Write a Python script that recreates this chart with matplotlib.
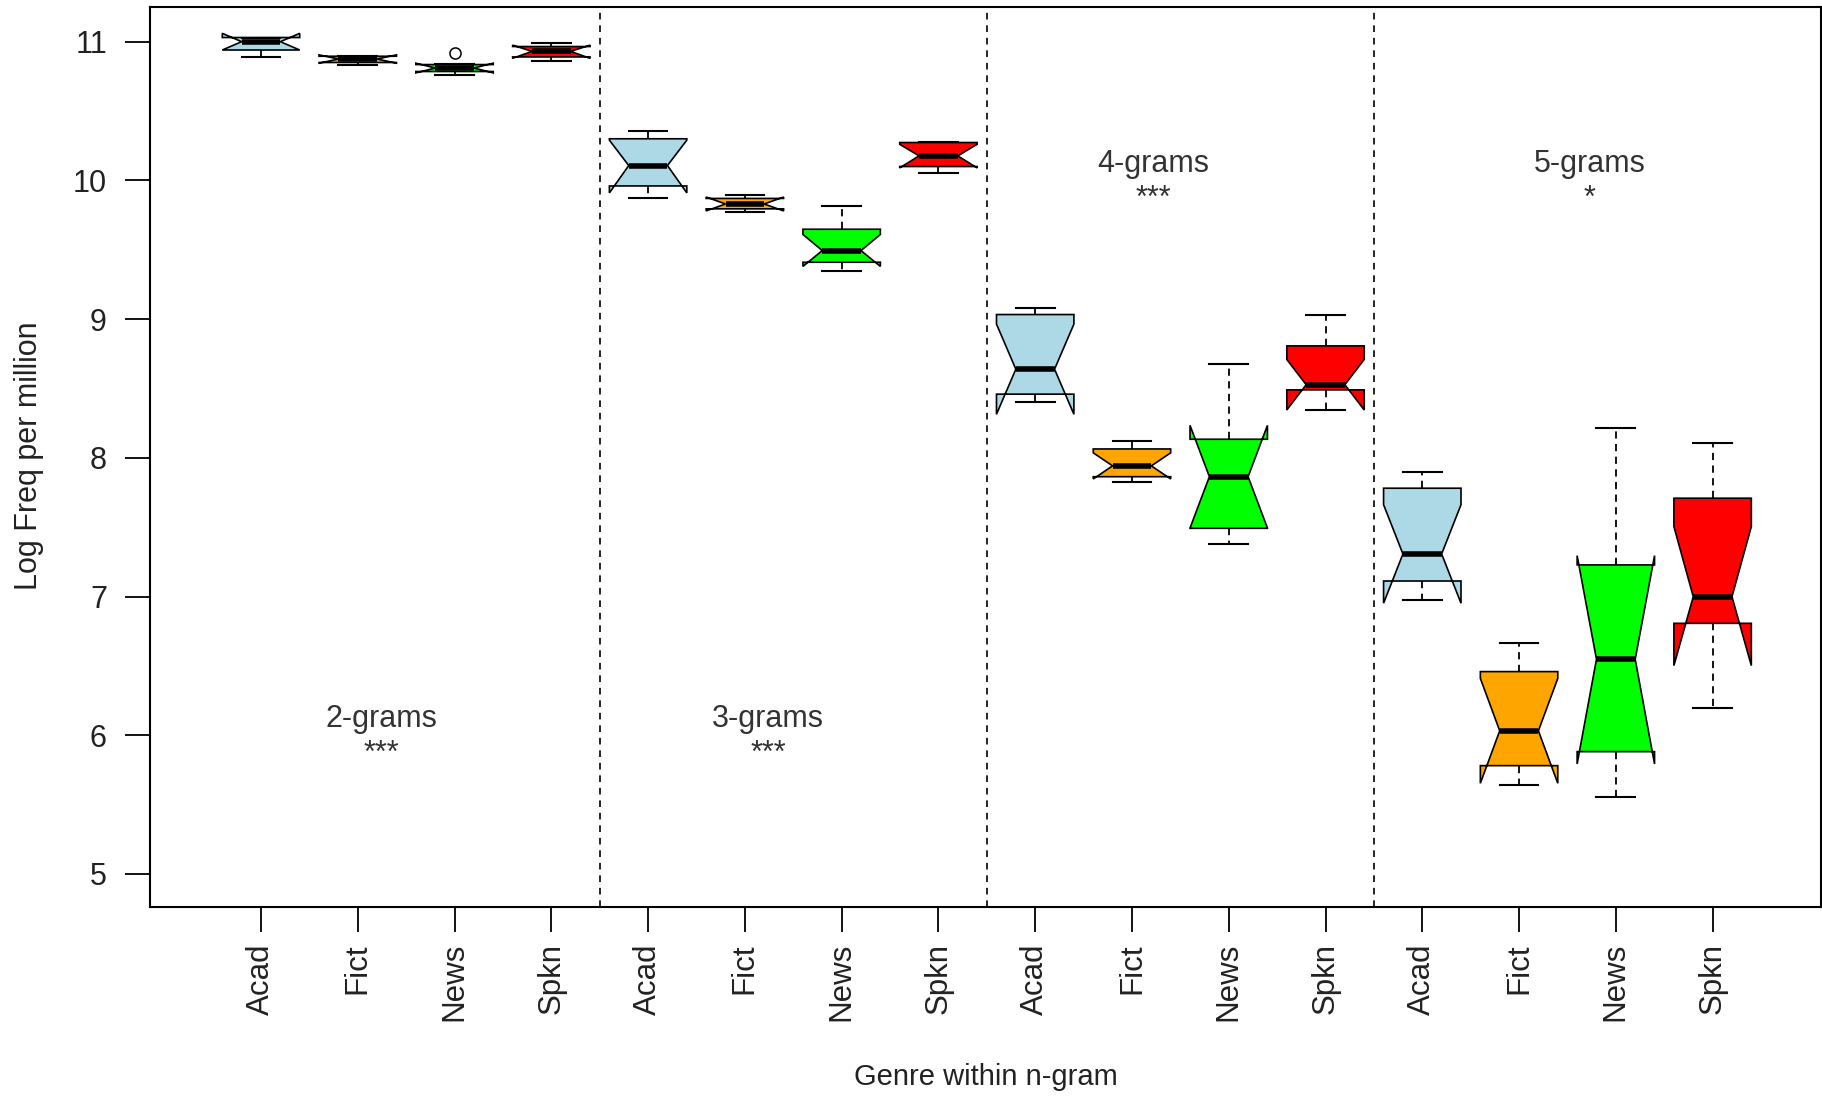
import matplotlib
matplotlib.use("Agg")
import matplotlib.pyplot as plt

plt.rcParams['font.family'] = ['Liberation Sans', 'DejaVu Sans']

# --- data (log frequency per million) ---
ngrams = ['2-grams', '3-grams', '4-grams', '5-grams']
genres = ['Acad', 'Fict', 'News', 'Spkn']
stars = ['***', '***', '***', '*']
genre_colors = ['#ADD8E6', '#FFA500', '#00FF00', '#FF0000']

# order: 2g Acad..Spkn, 3g Acad..Spkn, 4g ..., 5g ...
whislo = [10.89, 10.83, 10.76, 10.86,
          9.87, 9.77, 9.347, 10.05,
          8.40, 7.824, 7.379, 8.345,
          6.973, 5.642, 5.557, 6.197]
q1 = [10.94, 10.85, 10.785, 10.89,
      9.96, 9.795, 9.41, 10.10,
      8.459, 7.864, 7.492, 8.49,
      7.112, 5.781, 5.882, 6.807]
med = [11.00, 10.875, 10.81, 10.93,
       10.107, 9.83, 9.494, 10.177,
       8.639, 7.942, 7.864, 8.527,
       7.307, 6.032, 6.548, 6.999]
q3 = [11.03, 10.895, 10.835, 10.965,
      10.30, 9.87, 9.648, 10.273,
      9.033, 8.064, 8.134, 8.807,
      7.781, 6.459, 7.228, 7.709]
whishi = [11.03, 10.90, 10.84, 10.99,
          10.357, 9.895, 9.816, 10.28,
          9.083, 8.122, 8.679, 9.03,
          7.898, 6.668, 8.218, 8.105]
notch_lo = [10.94, 10.845, 10.775, 10.88,
            9.91, 9.78, 9.38, 10.09,
            8.314, 7.848, 7.494, 8.345,
            6.952, 5.654, 5.793, 6.502]
notch_hi = [11.06, 10.905, 10.845, 10.975,
            10.29, 9.88, 9.61, 10.26,
            8.964, 8.036, 8.234, 8.709,
            7.662, 6.41, 7.295, 7.504]
outliers = {2: [10.92]}

# label positions (x in box units, y in data units)
label_x = [2.24, 6.24, 10.22, 14.73]
label_y = [6.06, 6.06, 10.06, 10.06]


def build_stats():
    stats = []
    for i in range(len(med)):
        stats.append(dict(med=med[i], q1=q1[i], q3=q3[i],
                          whislo=whislo[i], whishi=whishi[i],
                          cilo=notch_lo[i], cihi=notch_hi[i],
                          fliers=outliers.get(i, [])))
    return stats


fig = plt.figure(figsize=(18.22, 10.96), dpi=100)
ax = fig.add_axes([150 / 1822, 1 - 907 / 1096, 1671 / 1822, 900 / 1096])

positions = list(range(1, 17))
bp = ax.bxp(build_stats(), positions=positions, widths=0.8,
            shownotches=True, patch_artist=True, manage_ticks=False,
            boxprops=dict(edgecolor='black', linewidth=1.2),
            medianprops=dict(color='black', linewidth=4, solid_capstyle='butt'),
            whiskerprops=dict(color='black', linewidth=1.3, linestyle=(0, (4, 3))),
            capprops=dict(color='black', linewidth=1.5),
            flierprops=dict(marker='o', markerfacecolor='none',
                            markeredgecolor='black', markersize=8,
                            markeredgewidth=1.1))
for i, box in enumerate(bp['boxes']):
    box.set_facecolor(genre_colors[i % 4])

# group separators
for xs in (4.5, 8.5, 12.5):
    ax.axvline(xs, color='black', linewidth=1.2, linestyle=(0, (4, 3.5)), zorder=0)

for name, s, x, y in zip(ngrams, stars, label_x, label_y):
    ax.text(x, y, name, ha='center', va='baseline', fontsize=22, color='#333333')
    ax.text(x, y - 0.25, s, ha='center', va='baseline', fontsize=22, color='#333333')

ax.set_xlim(-0.147, 17.12)
ax.set_ylim(4.762, 11.25)
ax.set_yticks([5, 6, 7, 8, 9, 10, 11])
ax.set_xticks(positions, labels=genres * 4, rotation=90)
ax.tick_params(axis='y', labelsize=22, length=18, width=1.3, pad=13, labelcolor='#222222')
ax.tick_params(axis='x', labelsize=22.5, length=18, width=1.3, pad=8, labelcolor='#222222')
for sp in ax.spines.values():
    sp.set_linewidth(1.5)

ax.set_xlabel('Genre within n-gram', fontsize=21, color='#222222', va='baseline')
ax.xaxis.set_label_coords(0.5, -0.198)
ax.set_ylabel('Log Freq per million', fontsize=22, color='#222222', va='center')
ax.yaxis.set_label_coords(-0.0727, 0.501)

fig.savefig('out.png', dpi=100)
